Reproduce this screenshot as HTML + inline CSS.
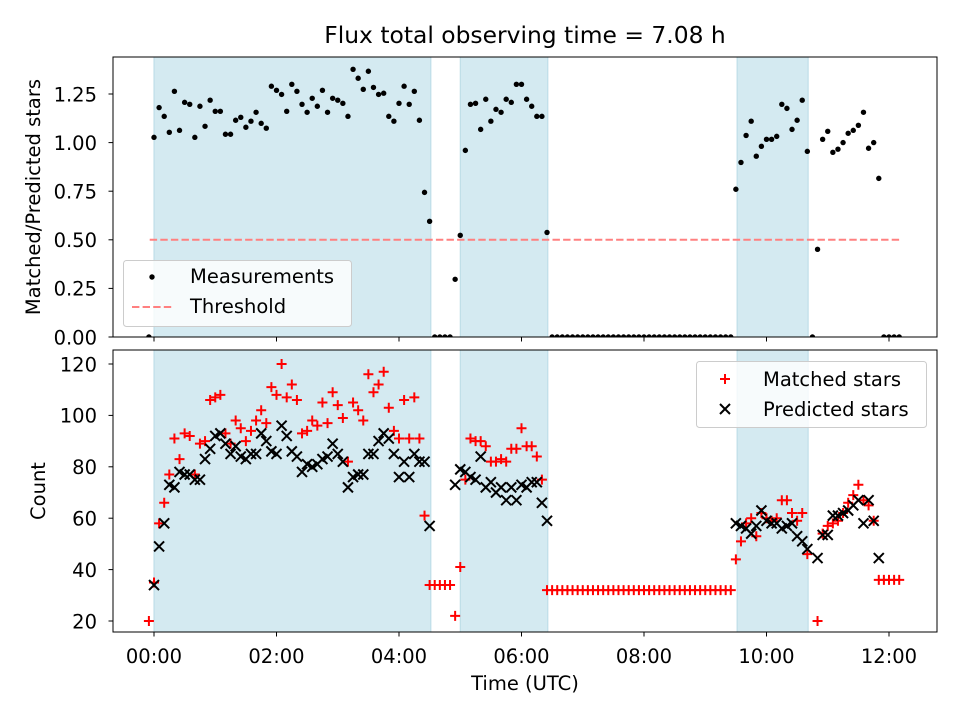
<!DOCTYPE html>
<html><head><meta charset="utf-8"><style>
html,body{margin:0;padding:0;background:#fff;}
svg{display:block;font-family:"DejaVu Sans","Liberation Sans",sans-serif;}
</style></head><body>
<svg id="chart" width="960" height="720" viewBox="0 0 960 720"></svg>
<script>
// ---- data ----
const intervalMinutes = 5;
const startMinute = -5;
const ratio = [0,
1.027,1.18,1.135,1.053,1.264,1.063,1.207,1.197,1.027,1.187,
1.084,1.218,1.161,1.161,1.043,1.043,1.115,1.13,1.079,1.11,
1.156,1.099,1.074,1.29,1.269,1.248,1.161,1.30,1.264,1.197,
1.156,1.228,1.187,1.269,1.156,1.228,1.218,1.202,1.135,1.377,
1.331,1.274,1.367,1.284,1.248,1.254,1.135,1.11,1.202,1.29,
1.197,1.264,1.115,0.744,0.595,
0,0,0,0,
0.297,0.523,0.96,1.197,1.202,1.068,1.223,1.11,1.171,1.156,1.223,1.207,1.30,1.30,1.223,1.187,1.135,1.135,0.538,
0,0,0,0,0,0,0,0,0,0,0,0,0,0,0,0,0,0,0,0,0,0,0,0,0,0,0,0,0,0,0,0,0,0,0,0,
0.76,0.898,1.037,1.11,0.93,0.981,1.017,1.017,1.032,1.197,1.176,1.068,1.115,1.218,0.955,0,0.451,1.017,1.058,0.95,0.966,1.0,1.048,1.063,1.089,1.156,0.971,1.0,0.816,
0,0,0,0];
const predicted = [null,
34,49,58,73,72,78,77,77,75,75,
83,87,92,93,89,85,88,84,83,85,
85,93,90,86,85,96,92,86,84,78,
81,80,81,83,84,89,85,82,72,76,
77,77,85,85,90,93,91,85,76,82,
76,85,82,82,57,
null,null,null,null,
73,79,78,76,75,84,72,74,70,72,67,72,67,73,72,74,74,66,59,
null,null,null,null,null,null,null,null,null,null,null,null,null,null,null,null,null,null,null,null,null,null,null,null,null,null,null,null,null,null,null,null,null,null,null,null,
58,57,56,54,57,63,59,58,58,56,57,58,53,51,48,null,44.5,53.5,53.5,61,61,62,63,65,67,58,67,59,44.5,
null,null,null,null];
// matched counts for samples where no ratio was computed (in order)
const zeroMatched = [20,34,34,34,34,
32,32,32,32,32,32,32,32,32,32,32,32,32,32,32,32,32,32,32,32,32,32,32,32,32,32,32,32,32,32,32,32,32,32,32,32,
null,36,36,36,36];
const spans = [[0,4.52],[5.0,6.43],[9.52,10.68]];
const threshold = 0.5;
const thresholdRange = [-0.07, 12.2];
const xTicks = [0,2,4,6,8,10,12];
const xTickLabels = ["00:00","02:00","04:00","06:00","08:00","10:00","12:00"];
const topTicks = [0,0.25,0.5,0.75,1.0,1.25];
const topTickLabels = ["0.00","0.25","0.50","0.75","1.00","1.25"];
const botTicks = [20,40,60,80,100,120];

// ---- axes ----
const L=113,R=937, T1=57,B1=337, T2=350,B2=632;
const FS = 19.5;
const xs = h => 154 + h*61.25;
const y1 = v => 337 - v*194.4;
const y2 = v => 621 - (v-20)*2.57;
const NS="http://www.w3.org/2000/svg";
const svg=document.getElementById('chart');
function el(tag,attrs,parent){const e=document.createElementNS(NS,tag);for(const k in attrs)e.setAttribute(k,attrs[k]);(parent||svg).appendChild(e);return e;}

const defs=el('defs',{});
const c1=el('clipPath',{id:'c1'},defs); el('rect',{x:L,y:T1,width:R-L,height:B1-T1},c1);
const c2=el('clipPath',{id:'c2'},defs); el('rect',{x:L,y:T2,width:R-L,height:B2-T2},c2);

// title
const title=el('text',{x:525,y:43,'text-anchor':'middle','font-size':'23.4'});
title.textContent='Flux total observing time = 7.08 h';



// derived series
const times=[],matched=[];
let zi=0;
for(let i=0;i<ratio.length;i++){
  times.push((startMinute+i*intervalMinutes)/60);
  if(ratio[i]>0) matched.push(predicted[i]!=null?Math.round(predicted[i]*ratio[i]):null);
  else {matched.push(zeroMatched[zi]); zi++;}
}

function panel(T,B,clip,name){
  const g=el('g',{'clip-path':'url(#'+clip+')'});
  
  
  spans.forEach((s,i)=>{
    const r=el('rect',{x:xs(s[0]),y:T,width:xs(s[1])-xs(s[0]),height:B-T,fill:'#d4eaf1',stroke:'#b9dbe6','stroke-width':1},g);
    
    
  });
  return g;
}
function frame(T,B,name){
  const f=el('rect',{x:L,y:T,width:R-L,height:B-T,fill:'none',stroke:'#000','stroke-width':1});
  
  
}
function xticks(B,labels){
  xTicks.forEach((h,i)=>{
    el('line',{x1:xs(h),x2:xs(h),y1:B,y2:B+4.5,stroke:'#000','stroke-width':1});
    if(labels){const t=el('text',{x:xs(h),y:B+31,'text-anchor':'middle','font-size':FS});t.textContent=xTickLabels[i];
      
      }
  });
}

// ---- top panel ----
const g1=panel(T1,B1,'c1','ratio');
const th=el('line',{x1:xs(thresholdRange[0]),x2:xs(thresholdRange[1]),y1:y1(threshold),y2:y1(threshold),stroke:'#ff8080','stroke-width':2,'stroke-dasharray':'7.4 3.2'},g1);


ratio.forEach((v,i)=>{
  const c=el('circle',{cx:xs(times[i]),cy:y1(v),r:2.7,fill:'#000'},g1);
  
  
});
frame(T1,B1,'top');
xticks(B1,false);
topTicks.forEach((v,i)=>{
  el('line',{x1:L-4.5,x2:L,y1:y1(v),y2:y1(v),stroke:'#000','stroke-width':1});
  const t=el('text',{x:97,y:y1(v)+7.3,'text-anchor':'end','font-size':FS});t.textContent=topTickLabels[i];
  
  
});
const yl1=el('text',{x:0,y:0,'text-anchor':'middle','font-size':FS,transform:'translate(40,197) rotate(-90)'});
yl1.textContent='Matched/Predicted stars';



// legend top
const lg1=el('g',{});


el('rect',{x:123.5,y:260.5,width:228,height:66,rx:3,fill:'#fff','fill-opacity':0.8,stroke:'#ccc'},lg1);
el('circle',{cx:152,cy:277,r:2.7,fill:'#000'},lg1);
const lt1=el('text',{x:190,y:283,'font-size':FS},lg1);lt1.textContent='Measurements';
el('line',{x1:132,x2:172,y1:307,y2:307,stroke:'#ff8080','stroke-width':2,'stroke-dasharray':'7.4 3.2'},lg1);
const lt2=el('text',{x:190,y:313,'font-size':FS},lg1);lt2.textContent='Threshold';

// ---- bottom panel ----
const g2=panel(T2,B2,'c2','count');
matched.forEach((v,i)=>{
  if(v==null) return;
  const x=xs(times[i]),y=y2(v);
  const p=el('path',{d:`M${x-5},${y}H${x+5}M${x},${y-5}V${y+5}`,stroke:'#ff0000','stroke-width':2,fill:'none'},g2);
  
  
});
predicted.forEach((v,i)=>{
  if(v==null) return;
  const x=xs(times[i]),y=y2(v);
  const p=el('path',{d:`M${x-5},${y-5}L${x+5},${y+5}M${x-5},${y+5}L${x+5},${y-5}`,stroke:'#000','stroke-width':2,fill:'none'},g2);
  
  
});
frame(T2,B2,'bottom');
xticks(B2,true);
botTicks.forEach(v=>{
  el('line',{x1:L-4.5,x2:L,y1:y2(v),y2:y2(v),stroke:'#000','stroke-width':1});
  const t=el('text',{x:97,y:y2(v)+7.3,'text-anchor':'end','font-size':FS});t.textContent=String(v);
  
  
});
const yl2=el('text',{x:0,y:0,'text-anchor':'middle','font-size':FS,transform:'translate(45,491) rotate(-90)'});
yl2.textContent='Count';


const xl=el('text',{x:525,y:690,'text-anchor':'middle','font-size':FS});
xl.textContent='Time (UTC)';



// legend bottom
const lg2=el('g',{});


el('rect',{x:696.5,y:361.5,width:230,height:66,rx:3,fill:'#fff','fill-opacity':0.8,stroke:'#ccc'},lg2);
el('path',{d:'M720,379H730M725,374V384',stroke:'#ff0000','stroke-width':2},lg2);
const lt3=el('text',{x:763,y:386,'font-size':FS},lg2);lt3.textContent='Matched stars';
el('path',{d:'M720,404L730,414M720,414L730,404',stroke:'#000','stroke-width':2},lg2);
const lt4=el('text',{x:763,y:416,'font-size':FS},lg2);lt4.textContent='Predicted stars';
</script>
</body></html>
